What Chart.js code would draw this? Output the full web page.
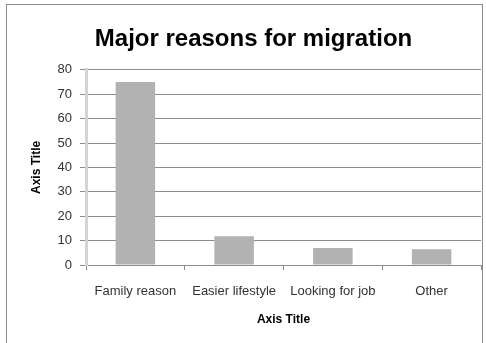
<!DOCTYPE html>
<html>
<head>
    <title>Major reasons for migration</title>
    <script src="https://cdn.jsdelivr.net/npm/chart.js"></script>
    <style>
        body { margin: 0; background: #fff; }
        #frame {
            position: absolute; left: 6px; top: 4px; width: 475px; height: 345px;
            border: 1px solid #8c8c8c; border-bottom: none;
        }
        #wrap { position: absolute; left: 0; top: 0; width: 486px; height: 343px; }
    </style>
</head>
<body>
    <div id="frame"></div>
    <div id="wrap"><canvas id="myChart" width="486" height="343"></canvas></div>

    <script>
        // chart data
        const categories = ['Family reason', 'Easier lifestyle', 'Looking for job', 'Other'];
        const values = [75, 11.8, 7, 6.5];
        const yTicks = [0, 10, 20, 30, 40, 50, 60, 70, 80];

        const font = 'Liberation Sans';

        const ctx = document.getElementById('myChart').getContext('2d');
        const myChart = new Chart(ctx, {
            type: 'bar',
            data: {
                labels: categories,
                datasets: [{
                    label: 'Series 1',
                    data: values,
                    backgroundColor: '#b2b2b2',
                    borderWidth: 0,
                    barPercentage: 0.4,
                    categoryPercentage: 1
                }]
            },
            options: {
                responsive: false,
                animation: false,
                // left padding shifts the title centre to match the original
                layout: { padding: { left: 26, right: 5, top: 0, bottom: 0 } },
                plugins: {
                    legend: { display: false },
                    tooltip: { enabled: false },
                    title: {
                        display: true,
                        text: 'Major reasons for migration',
                        color: '#000',
                        font: { family: font, size: 24, weight: 'bold' },
                        padding: { top: 25, bottom: 16 }
                    }
                },
                scales: {
                    x: {
                        afterFit: s => { s.height = 78; },
                        grid: { drawOnChartArea: false, tickLength: 5, color: '#8c8c8c' },
                        border: { color: '#8c8c8c', width: 1 },
                        ticks: { color: '#333', padding: 14, maxRotation: 0, font: { family: font, size: 13 } },
                        title: {
                            display: true, text: 'Axis Title', color: '#000',
                            font: { family: font, size: 12, weight: 'bold' },
                            padding: { top: 16, bottom: 16 }
                        }
                    },
                    y: {
                        min: 0,
                        max: 80,
                        afterFit: s => { s.width = 60; },
                        afterBuildTicks: s => { s.ticks = yTicks.map(v => ({ value: v })); },
                        grid: { color: '#8c8c8c', tickLength: 6 },
                        border: { color: '#d4d4d4', width: 3 },
                        ticks: { color: '#333', padding: 8, font: { family: font, size: 13 } },
                        title: {
                            display: true, text: 'Axis Title', color: '#000',
                            font: { family: font, size: 12, weight: 'bold' },
                            padding: { top: 3, bottom: 3 }
                        }
                    }
                }
            }
        });
    </script>
</body>
</html>
